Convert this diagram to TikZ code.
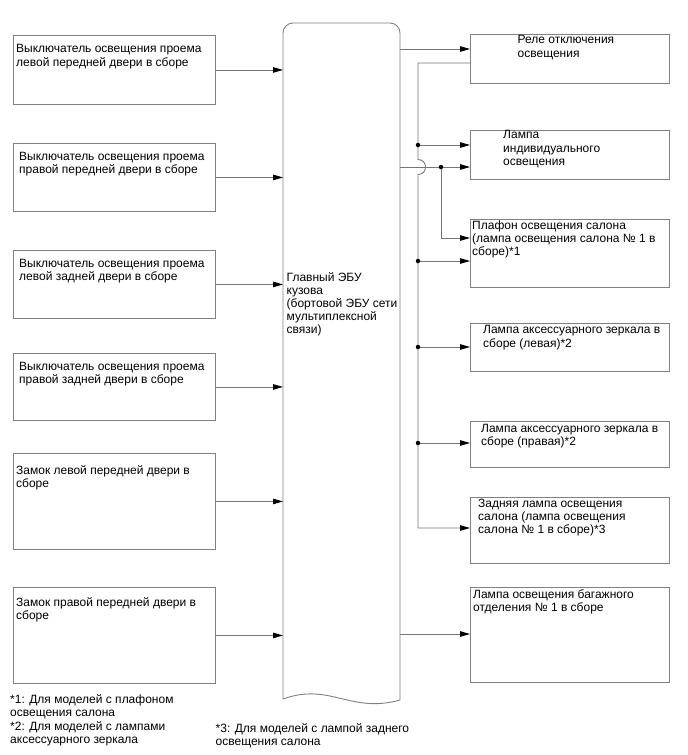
\documentclass[tikz,border=0pt]{standalone}
\usepackage{fontspec}
\setmainfont{Liberation Sans}
\usetikzlibrary{arrows.meta,calc}
\definecolor{boxgray}{HTML}{808080}
\definecolor{linegray}{HTML}{767676}
\begin{document}
\begin{tikzpicture}[x=1pt,y=-1pt,
  every node/.style={font=\fontsize{12}{13.2}\selectfont},
  box/.style={draw=boxgray, line width=0.9pt, anchor=north west, inner sep=0pt},
  lbl/.style={anchor=north west, align=left, inner sep=0pt, text=black},
  conn/.style={draw=linegray, line width=0.9pt, -{Triangle[length=10pt,width=5.5pt,color=black]}},
  wire/.style={draw=linegray, line width=0.9pt},
  dot/.style={circle, fill=black, inner sep=0pt, minimum size=4.5pt}
]
\useasboundingbox (0,0) rectangle (688,755);

% left boxes
\node[box, minimum width=202, minimum height=69,
  label={[lbl, xshift=3pt, yshift=-9.5pt]north west:{Выключатель освещения проема\\левой передней двери в сборе}}] (l1) at (13,35) {};
\node[box, minimum width=202, minimum height=68,
  label={[lbl, xshift=6pt, yshift=-9pt]north west:{Выключатель освещения проема\\правой передней двери в сборе}}] (l2) at (13,143) {};
\node[box, minimum width=202, minimum height=68,
  label={[lbl, xshift=6pt, yshift=-9pt]north west:{Выключатель освещения проема\\левой задней двери в сборе}}] (l3) at (13,250) {};
\node[box, minimum width=202, minimum height=67,
  label={[lbl, xshift=6pt, yshift=-9pt]north west:{Выключатель освещения проема\\правой задней двери в сборе}}] (l4) at (13,353) {};
\node[box, minimum width=202, minimum height=96,
  label={[lbl, xshift=3pt, yshift=-12pt]north west:{Замок левой передней двери в\\сборе}}] (l5) at (13,453) {};
\node[box, minimum width=202, minimum height=96,
  label={[lbl, xshift=3pt, yshift=-10pt]north west:{Замок правой передней двери в\\сборе}}] (l6) at (13,587) {};

% main ECU
\node[anchor=north west, inner sep=0pt, minimum width=117, minimum height=677] (ecu) at (283,23) {};
\draw[draw=boxgray, line width=0.9pt] (283,699) -- (283,33) arc[start angle=180, end angle=270, radius=10]
  -- (390,23) arc[start angle=270, end angle=360, radius=10] -- (400,700)
  .. controls (350,714) and (330,682) .. (283,699) -- cycle;
\node[lbl] (ecutext) at (286.5,272) {Главный ЭБУ\\кузова\\(бортовой ЭБУ сети\\мультиплексной\\связи)};

% right boxes
\node[box, minimum width=199, minimum height=49,
  label={[lbl, xshift=47.5pt, yshift=-1.5pt]north west:{Реле отключения\\освещения}}] (r1) at (470,34) {};
\node[box, minimum width=199, minimum height=49,
  label={[lbl, xshift=33pt, yshift=-0.5pt]north west:{Лампа\\индивидуального\\освещения}}] (r2) at (470,130) {};
\node[box, minimum width=199, minimum height=68,
  label={[lbl, xshift=2pt, yshift=-1.5pt]north west:{Плафон освещения салона\\(лампа освещения салона № 1 в\\сборе)*1}}] (r3) at (470,219) {};
\node[box, minimum width=199, minimum height=48,
  label={[lbl, xshift=13pt, yshift=-2.5pt]north west:{Лампа аксессуарного зеркала в\\сборе (левая)*2}}] (r4) at (470,323) {};
\node[box, minimum width=199, minimum height=46,
  label={[lbl, xshift=11pt, yshift=-3pt]north west:{Лампа аксессуарного зеркала в\\сборе (правая)*2}}] (r5) at (470,421) {};
\node[box, minimum width=199, minimum height=66,
  label={[lbl, xshift=8pt, yshift=-2pt]north west:{Задняя лампа освещения\\салона (лампа освещения\\салона № 1 в сборе)*3}}] (r6) at (470,497) {};
\node[box, minimum width=199, minimum height=95,
  label={[lbl, xshift=3pt, yshift=-2pt]north west:{Лампа освещения багажного\\отделения № 1 в сборе}}] (r7) at (470,587) {};

% left connectors
\foreach \n in {l1,l2,l3,l4,l5,l6}
  \draw[conn] (\n.east) -- (\n.east -| ecu.west);

% right side coordinates
\coordinate (bus) at (418,0);
\coordinate (br) at (441,0);
\coordinate (r1in) at ($(r1.north west)+(0,15)$);
\coordinate (r1out) at ($(r1.north west)+(0,29)$);
\coordinate (r2a) at ($(r2.north west)+(0,15)$);
\coordinate (r2b) at ($(r2.north west)+(0,37)$);
\coordinate (r3a) at ($(r3.north west)+(0,19)$);
\coordinate (r3b) at ($(r3.north west)+(0,42)$);
\coordinate (r4in) at ($(r4.north west)+(0,24)$);
\coordinate (r5in) at ($(r5.north west)+(0,22)$);
\coordinate (r6in) at ($(r6.north west)+(0,31)$);
\coordinate (r7in) at ($(r7.north west)+(0,47)$);

% ECU outputs
\draw[conn] (ecu.east |- r1in) -- (r1in);
\draw[conn] (ecu.east |- r2b) -- (r2b);
\draw[conn] (ecu.east |- r7in) -- (r7in);

% bus from relay
\draw[conn] (r1out) -- (bus |- r1out) -- ($(bus |- r2b)+(0,-7.5)$)
  .. controls +(10,0) and +(10,0) .. ($(bus |- r2b)+(0,7.5)$)
  -- (bus |- r6in) -- (r6in);
\draw[conn] (bus |- r2a) -- (r2a);
\draw[conn] (bus |- r3b) -- (r3b);
\draw[conn] (bus |- r4in) -- (r4in);
\draw[conn] (bus |- r5in) -- (r5in);
\draw[conn] (br |- r2b) -- (br |- r3a) -- (r3a);

\node[dot] (d1) at (bus |- r2a) {};
\node[dot] (d2) at (br |- r2b) {};
\node[dot] (d3) at (bus |- r3b) {};
\node[dot] (d4) at (bus |- r4in) {};
\node[dot] (d5) at (bus |- r5in) {};

% footnotes
\node[lbl, font=\fontsize{12}{13.6}\selectfont] (fn1) at (10,694) {*1: Для моделей с плафоном\\освещения салона\\*2: Для моделей с лампами\\аксессуарного зеркала};
\node[lbl, font=\fontsize{12}{13.6}\selectfont] (fn3) at (215.5,723) {*3: Для моделей с лампой заднего\\освещения салона};
\end{tikzpicture}
\end{document}
